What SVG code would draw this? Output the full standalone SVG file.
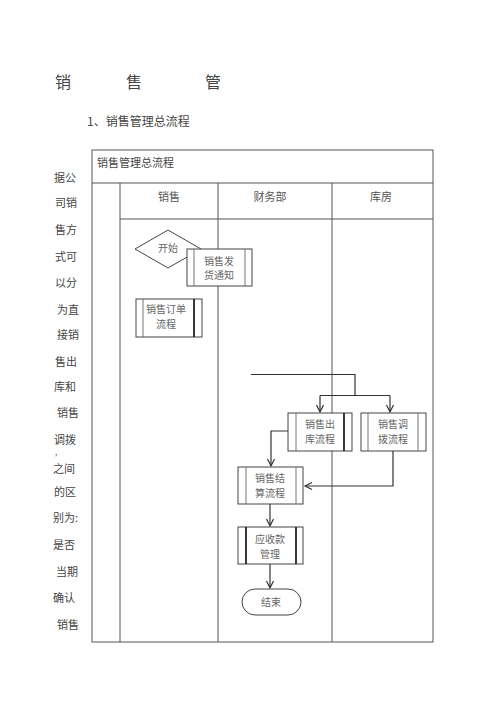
<svg xmlns="http://www.w3.org/2000/svg" width="500" height="708" viewBox="0 0 500 708">
<style>
text{font-family:"Noto Sans CJK SC","Noto Sans",sans-serif;}
.t{fill:#444;font-size:11px;}
.b{fill:#666;font-size:10px;text-anchor:middle;}
.h{fill:#555;font-size:11px;text-anchor:middle;}
.grid{stroke:#555;stroke-width:1;fill:none;}
.box{fill:#fff;stroke:#444;stroke-width:1;}
.in{stroke:#666;stroke-width:0.9;}
.ink{stroke:#222;stroke-width:1.8;}
.c{stroke:#333;stroke-width:1.2;fill:none;}
</style>
<defs>
<marker id="ar" markerWidth="10" markerHeight="10" refX="8" refY="5" orient="auto" markerUnits="userSpaceOnUse">
<polyline points="1,1.5 8,5 1,8.5" fill="none" stroke="#333" stroke-width="1.2"/>
</marker>
</defs>
<rect width="500" height="708" fill="#fff"/>
<g id="title">
<text x="55" y="88" style="font-size:16px;fill:#444">销</text>
<text x="126" y="88" style="font-size:16px;fill:#444">售</text>
<text x="205" y="88" style="font-size:16px;fill:#444">管</text>
<text x="87" y="126" style="font-size:12px;fill:#444">1、销售管理总流程</text>
</g>
<g id="sidetext" class="t">
<text x="54" y="182">据公</text>
<text x="55" y="207">司销</text>
<text x="55" y="234">售方</text>
<text x="55" y="261">式可</text>
<text x="55" y="287">以分</text>
<text x="57" y="314">为直</text>
<text x="57" y="339">接销</text>
<text x="55" y="366">售出</text>
<text x="54" y="391">库和</text>
<text x="57" y="417">销售</text>
<text x="54" y="444">调拨</text>
<text x="55" y="455" style="font-size:8px">,</text>
<text x="53" y="473">之间</text>
<text x="54" y="496">的区</text>
<text x="53" y="522">别为:</text>
<text x="53" y="549">是否</text>
<text x="56" y="576">当期</text>
<text x="53" y="602">确认</text>
<text x="57" y="629">销售</text>
</g>
<g id="table">
<rect class="grid" x="92" y="150" width="341" height="492"/>
<line class="grid" x1="92" y1="183" x2="433" y2="183"/>
<line class="grid" x1="120" y1="183" x2="120" y2="642"/>
<line class="grid" x1="120" y1="219" x2="433" y2="219"/>
<line class="grid" x1="218" y1="183" x2="218" y2="642"/>
<line class="grid" x1="332" y1="183" x2="332" y2="642"/>
<text class="t" x="97" y="167">销售管理总流程</text>
<text class="h" x="169" y="201">销售</text>
<text class="h" x="270" y="201">财务部</text>
<text class="h" x="381" y="201">库房</text>
</g>
<g id="connectors">
<polyline class="c" points="251,374.5 355,374.5 355,395.5"/>
<line class="c" x1="320" y1="395.5" x2="390" y2="395.5"/>
<line class="c" x1="320" y1="395.5" x2="320" y2="412" marker-end="url(#ar)"/>
<line class="c" x1="390" y1="395.5" x2="390" y2="412" marker-end="url(#ar)"/>
<polyline class="c" points="288,431 271,431 271,466" marker-end="url(#ar)"/>
<polyline class="c" points="393,451 393,486 305,486" marker-end="url(#ar)"/>
<line class="c" x1="270" y1="504" x2="270" y2="526" marker-end="url(#ar)"/>
<line class="c" x1="270" y1="564" x2="270" y2="588" marker-end="url(#ar)"/>
</g>
<g id="start">
<polygon class="box" points="168,230 201,249 168,268 135,249"/>
<text class="b" x="168" y="252">开始</text>
</g>
<g id="notice">
<rect class="box" x="187" y="249" width="65" height="37"/>
<line class="in" x1="194" y1="249" x2="194" y2="286"/>
<line class="in" x1="245" y1="249" x2="245" y2="286"/>
<text class="b" x="219" y="265">销售发</text>
<text class="b" x="219" y="279">货通知</text>
</g>
<g id="order">
<rect class="box" x="136" y="299" width="66" height="38"/>
<line class="in" x1="143" y1="299" x2="143" y2="337"/>
<line class="ink" x1="194" y1="299" x2="194" y2="337"/>
<text class="b" x="166" y="313">销售订单</text>
<text class="b" x="166" y="328">流程</text>
</g>
<g id="outbound">
<rect class="box" x="288" y="413" width="64" height="38"/>
<line class="in" x1="296" y1="413" x2="296" y2="451"/>
<line class="ink" x1="344" y1="413" x2="344" y2="451"/>
<text class="b" x="320" y="428">销售出</text>
<text class="b" x="320" y="443">库流程</text>
</g>
<g id="transfer">
<rect class="box" x="361" y="413" width="65" height="38"/>
<line class="in" x1="368" y1="413" x2="368" y2="451"/>
<line class="in" x1="418" y1="413" x2="418" y2="451"/>
<text class="b" x="393" y="428">销售调</text>
<text class="b" x="393" y="443">拨流程</text>
</g>
<g id="settle">
<rect class="box" x="238" y="467" width="65" height="37"/>
<line class="in" x1="246" y1="467" x2="246" y2="504"/>
<line class="in" x1="296" y1="467" x2="296" y2="504"/>
<text class="b" x="270" y="482">销售结</text>
<text class="b" x="270" y="497">算流程</text>
</g>
<g id="receivable">
<rect class="box" x="238" y="527" width="65" height="37"/>
<line class="ink" x1="246" y1="527" x2="246" y2="564"/>
<line class="ink" x1="296" y1="527" x2="296" y2="564"/>
<text class="b" x="270" y="543">应收款</text>
<text class="b" x="270" y="558">管理</text>
</g>
<g id="end">
<rect class="box" x="242" y="589" width="59" height="26" rx="13" ry="13"/>
<text class="b" x="271" y="606">结束</text>
</g>
</svg>
